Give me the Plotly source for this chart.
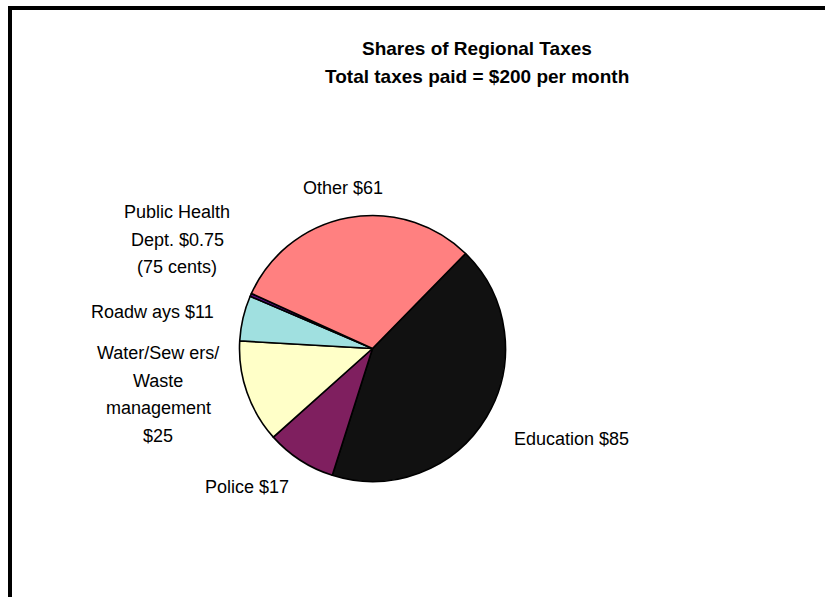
import plotly.graph_objects as go

# ---- data ----
categories = ["Education", "Police", "Water/Sewers/Waste management",
              "Roadways", "Public Health Dept.", "Other"]
values = [85, 17, 25, 11, 0.75, 61]
colors = ["#111111", "#7f1f5f", "#ffffc8", "#a0e0e0", "#5a0a80", "#ff8080"]
label_lines = [
    ["Education $85"],
    ["Police $17"],
    ["Water/Sew ers/", "Waste", "management", "$25"],
    ["Roadw ays $11"],
    ["Public Health", "Dept. $0.75", "(75 cents)"],
    ["Other $61"],
]
# label centre positions (pixels from top-left) for each slice's text block
label_pos = [(571, 439), (247, 487), (158, 353), (152, 312), (177, 212), (343, 188)]
line_step = 27.5
title_lines = ["Shares of Regional Taxes", "Total taxes paid = $200 per month"]

W, H = 825, 597
FONT = "Arial, Liberation Sans, sans-serif"

fig = go.Figure(go.Pie(
    labels=categories,
    values=values,
    sort=False,
    direction="clockwise",
    rotation=44.4,
    marker=dict(colors=colors, line=dict(color="#000000", width=1.6)),
    textinfo="none",
    showlegend=False,
    domain=dict(x=[239.5 / W, 505.5 / W], y=[115.5 / H, 381.5 / H]),
))

annotations = []
for lines, (cx, cy) in zip(label_lines, label_pos):
    for i, line in enumerate(lines):
        annotations.append(dict(
            x=cx / W, y=1 - (cy + i * line_step) / H, xref="paper", yref="paper",
            text=line, showarrow=False, xanchor="center", yanchor="middle",
            font=dict(family=FONT, size=18, color="#000000"),
        ))
for i, t in enumerate(title_lines):
    annotations.append(dict(
        x=477 / W, y=1 - (49 + i * 28) / H, xref="paper", yref="paper",
        text="<b>" + t + "</b>", showarrow=False, xanchor="center", yanchor="middle",
        font=dict(family=FONT, size=19, color="#000000"),
    ))

shapes = [
    dict(type="line", xref="paper", yref="paper", x0=8 / W, x1=1.0,
         y0=1 - 8 / H, y1=1 - 8 / H, line=dict(color="#000000", width=4)),
    dict(type="line", xref="paper", yref="paper", x0=10 / W, x1=10 / W,
         y0=0, y1=1 - 6 / H, line=dict(color="#000000", width=4)),
]

fig.update_layout(
    width=W, height=H,
    margin=dict(l=0, r=0, t=0, b=0),
    paper_bgcolor="#ffffff",
    plot_bgcolor="#ffffff",
    annotations=annotations,
    shapes=shapes,
    font=dict(family=FONT),
)

fig.write_html("out.html", config={"displayModeBar": False},
               post_script="document.body.style.margin='0';")
